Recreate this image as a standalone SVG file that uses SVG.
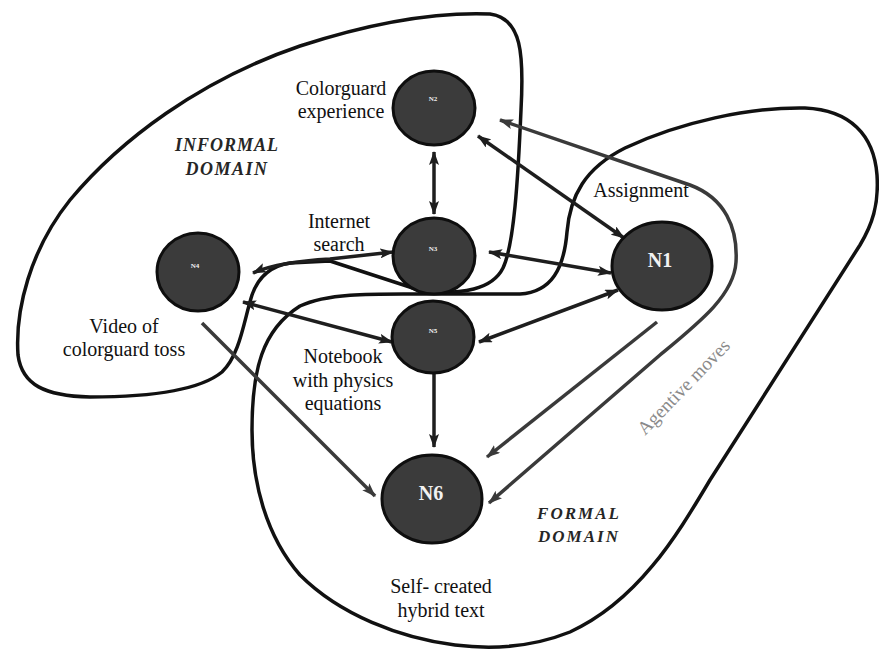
<svg xmlns="http://www.w3.org/2000/svg" width="879" height="650" viewBox="0 0 879 650">
<style>
.bg{fill:#ffffff}
.domain{fill:none;stroke:#111;stroke-width:3.5;stroke-linejoin:round;stroke-linecap:round}
.conn{fill:none;stroke:#1e1e1e;stroke-width:3.5}
.soft{fill:none;stroke:#3a3a3a;stroke-width:3.5}
.node{fill:#3b3b3b;stroke:#0e0e0e;stroke-width:3}
.lbl{font-family:"Liberation Serif","Times New Roman",serif;font-size:20px;fill:#111;text-anchor:middle}
.dom{font-family:"Liberation Serif","Times New Roman",serif;font-style:italic;font-weight:bold;fill:#262626;text-anchor:middle}
.nbig{font-family:"Liberation Serif","Times New Roman",serif;font-weight:bold;font-size:20px;fill:#f2f2f2;text-anchor:middle}
.nsmall{font-family:"Liberation Serif","Times New Roman",serif;font-weight:bold;font-size:7px;fill:#f2f2f2;text-anchor:middle}
.agent{font-family:"Liberation Serif","Times New Roman",serif;font-size:19px;fill:#8a8a8a}
</style>
<defs>
<marker id="ah" viewBox="0 0 14 10" refX="13" refY="5" markerWidth="14" markerHeight="10" markerUnits="userSpaceOnUse" orient="auto-start-reverse">
<path d="M0,0 L14,5 L0,10 L3,5 z" fill="#1e1e1e"/>
</marker>
<marker id="ahs" viewBox="0 0 14 10" refX="13" refY="5" markerWidth="14" markerHeight="10" markerUnits="userSpaceOnUse" orient="auto-start-reverse">
<path d="M0,0 L14,5 L0,10 L3,5 z" fill="#3a3a3a"/>
</marker>
</defs>
<rect class="bg" x="0" y="0" width="879" height="650"/>

<g id="domains">
<path id="informal-boundary" class="domain" d="M 330 261 L 425 292 C 462 294, 492 290, 503 268 C 514 245, 518 180, 521 110 C 524 55, 522 18, 490 14 C 440 12, 380 20, 300 46 C 200 80, 120 140, 70 200 C 30 250, 15 310, 18 355 C 22 385, 45 396, 90 397 C 150 397, 200 390, 222 372 C 240 355, 244 320, 252 295 C 258 278, 270 266, 290 263 L 330 261 Z"/>
<path id="formal-boundary" class="domain" d="M 430 294 L 520 294 C 552 292, 564 268, 567 232 C 570 196, 585 168, 625 148 C 680 122, 750 107, 805 108 C 850 110, 874 135, 877 175 C 879 205, 872 225, 860 245 L 710 480 C 680 530, 640 600, 570 632 C 535 646, 495 650, 455 645 C 400 638, 340 615, 300 575 C 265 535, 252 480, 252 430 C 252 370, 262 330, 300 306 C 330 292, 380 294, 430 294 Z"/>
</g>

<g id="connectors">
<path class="conn" d="M 434 152 L 434 214" marker-start="url(#ah)" marker-end="url(#ah)"/>
<path class="conn" d="M 478 136 L 624 238" marker-start="url(#ah)" marker-end="url(#ah)"/>
<path class="conn" d="M 489 252 L 611 273" marker-start="url(#ah)" marker-end="url(#ah)"/>
<path class="conn" d="M 479 342 L 618 290" marker-start="url(#ah)" marker-end="url(#ah)"/>
<path class="conn" d="M 253 273 Q 278 262 330 259 L 393 252" marker-start="url(#ah)" marker-end="url(#ah)"/>
<path class="conn" d="M 243 302 L 392 342" marker-start="url(#ah)" marker-end="url(#ah)"/>
<path class="soft" d="M 202 323 L 375 496" marker-end="url(#ahs)"/>
<path class="conn" d="M 434 374 L 434 447" marker-end="url(#ah)"/>
<path class="soft" d="M 657 322 L 487 457" marker-end="url(#ahs)"/>
<path class="soft" d="M 500 120 L 690 185 C 725 198, 738 228, 736 262 C 734 295, 700 322, 660 355 L 489 503" marker-start="url(#ahs)" marker-end="url(#ahs)"/>
</g>

<g id="N2"><ellipse class="node" cx="434" cy="108" rx="41" ry="37"/><text class="nsmall" x="433" y="101">N2</text></g>
<g id="N3"><ellipse class="node" cx="434" cy="256" rx="41" ry="38"/><text class="nsmall" x="433" y="251">N3</text></g>
<g id="N4"><ellipse class="node" cx="198" cy="272" rx="41" ry="39"/><text class="nsmall" x="195" y="268">N4</text></g>
<g id="N5"><ellipse class="node" cx="433" cy="337" rx="41" ry="36"/><text class="nsmall" x="433" y="333">N5</text></g>
<g id="N1"><ellipse class="node" cx="662" cy="266" rx="50" ry="44"/><text class="nbig" x="660" y="267">N1</text></g>
<g id="N6"><ellipse class="node" cx="432" cy="499" rx="50" ry="44"/><text class="nbig" x="431" y="500">N6</text></g>

<g id="labels">
<text class="lbl" x="341" y="95">Colorguard</text>
<text class="lbl" x="341" y="118">experience</text>
<text class="lbl" x="339" y="228">Internet</text>
<text class="lbl" x="339" y="251">search</text>
<text class="lbl" x="124" y="333">Video of</text>
<text class="lbl" x="124" y="356">colorguard toss</text>
<text class="lbl" x="343" y="363">Notebook</text>
<text class="lbl" x="343" y="387">with physics</text>
<text class="lbl" x="343" y="410">equations</text>
<text class="lbl" x="641" y="197">Assignment</text>
<text class="lbl" x="441" y="593">Self- created</text>
<text class="lbl" x="441" y="617">hybrid text</text>
<text class="dom" x="227" y="151" font-size="18" letter-spacing="1">INFORMAL</text>
<text class="dom" x="227" y="175" font-size="18" letter-spacing="1.5">DOMAIN</text>
<text class="dom" x="579" y="519" font-size="17" letter-spacing="2">FORMAL</text>
<text class="dom" x="579" y="542" font-size="17" letter-spacing="2">DOMAIN</text>
<text class="agent" x="0" y="0" transform="translate(645 436) rotate(-46)">Agentive moves</text>
</g>
</svg>
